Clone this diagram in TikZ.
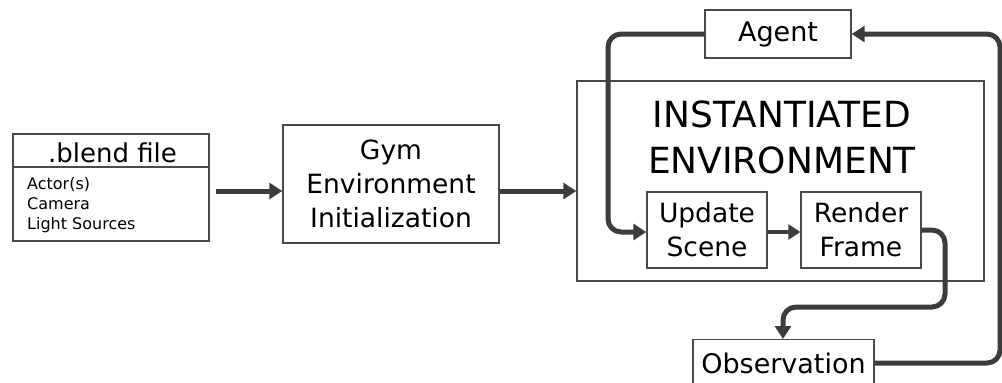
\documentclass[tikz,border=0pt]{standalone}
\usepackage{fontspec}
\setmainfont{DejaVu Sans}
\usetikzlibrary{arrows.meta}
\definecolor{edge}{HTML}{3C3C3C}
\definecolor{frame}{HTML}{4A4A4A}
\begin{document}
\begin{tikzpicture}[x=1pt,y=-1pt,
  box/.style={draw=frame,line width=1.4pt,inner sep=0pt,align=center,font=\fontsize{26.5}{34}\selectfont},
  flow/.style={draw=edge,line width=5pt,rounded corners=13pt,-{Triangle[length=13pt,width=16pt]}},
  thin flow/.style={draw=edge,line width=4pt,-{Triangle[length=12pt,width=15pt]}}]
\useasboundingbox (0,0) rectangle (1002,383);
\begin{scope}
\clip (0,0) rectangle (1002,383);
% .blend file
\node[box,minimum width=196pt,minimum height=107pt] (blend) at (111,187.5) {};
\draw[frame,line width=1.4pt] (blend.west |- 0,167) -- (blend.east |- 0,167);
\node[anchor=base,font=\fontsize{26}{30}\selectfont,inner sep=0pt] (blendt) at (112.5,162) {.blend file};
\node[anchor=base west,inner sep=0pt,font=\fontsize{16}{20}\selectfont,align=left] (items) at (27,229) {Actor(s)\\Camera\\Light Sources};
% gym
\node[box,minimum width=216pt,minimum height=118pt] (gym) at (391,184) {Gym\\Environment\\Initialization};
% instantiated
\node[box,minimum width=407pt,minimum height=200pt] (inst) at (780.5,181) {};
\node[inner sep=0pt,align=center,font=\fontsize{36}{46}\selectfont] (title) at (782,137) {INSTANTIATED\\ENVIRONMENT};
\node[box,minimum width=120pt,minimum height=76pt] (upd) at (707,230) {Update\\Scene};
\node[box,minimum width=120pt,minimum height=76pt] (ren) at (861,230) {Render\\Frame};
% agent, observation
\node[box,minimum width=146pt,minimum height=48pt,font=\fontsize{27}{34}\selectfont] (agent) at (778,34) {Agent};
\node[box,minimum width=181pt,minimum height=56pt,anchor=north,font=\fontsize{27}{34}\selectfont,text depth=0pt] (obs) at (783.5,339) {};
\node[anchor=base,inner sep=0pt,font=\fontsize{27}{34}\selectfont] (obst) at (783.5,373) {Observation};
% connectors
\draw[flow,rounded corners=0pt] (216,191) -- (gym.west |- 0,191);
\draw[flow,rounded corners=0pt] (gym.east |- 0,191) -- (inst.west |- 0,191);
\coordinate (a1) at (608,34);
\coordinate (a2) at (608,232);
\draw[flow] (agent.west) -- (a1) -- (a2) -- (upd.west |- a2);
\draw[thin flow] (upd.east |- 0,232) -- (ren.west |- 0,232);
\coordinate (r1) at (945,230);
\coordinate (r2) at (945,307);
\coordinate (r3) at (783,307);
\draw[flow] (ren.east |- r1) -- (r1) -- (r2) -- (r3) -- (obs.north -| r3);
\coordinate (o1) at (1000,363);
\coordinate (o2) at (1000,34);
\draw[flow] (obs.east |- o1) -- (o1) -- (o2) -- (agent.east);
\end{scope}
\end{tikzpicture}
\end{document}
